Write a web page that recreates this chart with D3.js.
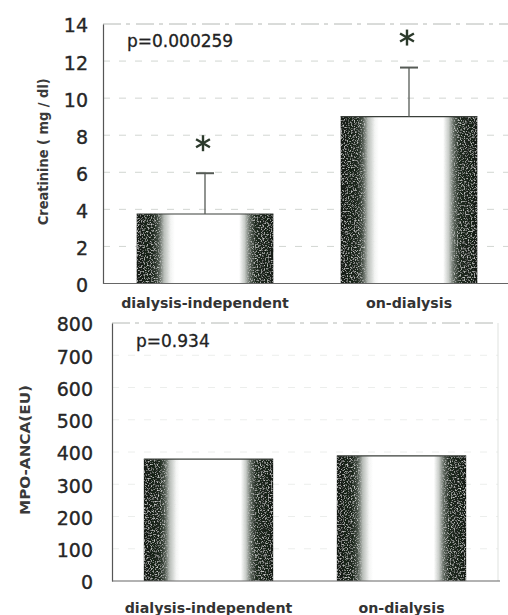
<!DOCTYPE html>
<html>
<head>
<meta charset="utf-8">
<script src="https://cdn.jsdelivr.net/npm/d3@7"></script>
<style>
  html, body { margin: 0; padding: 0; background: #fff; }
  svg { display: block; }
  text { font-family: "DejaVu Sans", sans-serif; }
</style>
</head>
<body>
<svg id="chart" width="508" height="615"></svg>
<script>
// ---- data ----
const groups = ["dialysis-independent", "on-dialysis"];

const creatinineMean = [3.75, 9.0];
const creatinineSD = [2.2, 2.65];
const creatinineTicks = [0, 2, 4, 6, 8, 10, 12, 14];
const creatinineP = "p=0.000259";
const creatinineSignificant = [true, true];

const mpoMean = [378, 388];
const mpoTicks = [0, 100, 200, 300, 400, 500, 600, 700, 800];
const mpoP = "p=0.934";

// ---- drawing ----
const svg = d3.select("#chart");
const defs = svg.append("defs");

// shaded column fill: dark edges fading to a white middle
const grad = defs.append("linearGradient")
  .attr("id", "barShade").attr("x1", "0%").attr("x2", "100%").attr("y1", "0%").attr("y2", "0%");
[
  [0, "#121a12"], [0.12, "#1c271c"], [0.16, "#4a534a"], [0.20, "#b8bdb8"], [0.25, "#f4f5f4"], [0.28, "#ffffff"],
  [0.75, "#ffffff"], [0.79, "#c8ccc8"], [0.83, "#5a635a"], [0.87, "#1f2a1f"], [1, "#141c14"]
].forEach(([o, c]) => grad.append("stop").attr("offset", o).attr("stop-color", c));

// grain that only shows on the darker parts of the columns
const grain = defs.append("filter").attr("id", "grain").attr("x", 0).attr("y", 0).attr("width", 1).attr("height", 1);
grain.append("feTurbulence").attr("type", "fractalNoise").attr("baseFrequency", "0.7").attr("numOctaves", 2).attr("seed", 5).attr("result", "noise");
grain.append("feColorMatrix").attr("in", "noise").attr("type", "matrix")
  .attr("values", "0 0 0 0 0.6  0 0 0 0 0.62  0 0 0 0 0.6  0 0 0 -3.2 1.55").attr("result", "speck");
grain.append("feColorMatrix").attr("in", "SourceGraphic").attr("type", "matrix")
  .attr("values", "0 0 0 0 0  0 0 0 0 0  0 0 0 0 0  -0.34 -0.33 -0.33 0 1").attr("result", "dark");
grain.append("feComposite").attr("in", "speck").attr("in2", "dark").attr("operator", "in").attr("result", "speckIn");
grain.append("feMerge").selectAll("feMergeNode").data(["SourceGraphic", "speckIn"]).join("feMergeNode").attr("in", d => d);

function panel(cfg) {
  const { x0, x1, yTop, yBottom, domainMax, ticks, means, sd, stars, pText, title, titleX, titleLen, labelY, tickRight } = cfg;

  const x = d3.scaleBand().domain(groups).range([x0, x1]).paddingInner(0.33).paddingOuter(0.165);
  const y = d3.scaleLinear().domain([0, domainMax]).range([yBottom, yTop]);

  const g = svg.append("g");

  // faint dashed guides
  g.append("g").selectAll("line").data(ticks.filter(t => t > 0 && t < domainMax)).join("line")
    .attr("x1", x0).attr("x2", x1).attr("y1", d => y(d)).attr("y2", d => y(d))
    .attr("stroke", cfg.gridColor).attr("stroke-width", 1).attr("stroke-dasharray", "7,9");

  // frame top and right
  g.append("line").attr("x1", x0).attr("x2", x1).attr("y1", y(domainMax)).attr("y2", y(domainMax))
    .attr("stroke", "#b4b8b4").attr("stroke-width", 1).attr("stroke-dasharray", "18,5,4,6");
  g.append("line").attr("x1", x1).attr("x2", x1).attr("y1", y(domainMax)).attr("y2", yBottom)
    .attr("stroke", cfg.rightColor).attr("stroke-width", 1);

  // bars
  g.append("g").selectAll("rect").data(means).join("rect")
    .attr("x", (d, i) => x(groups[i]))
    .attr("y", d => y(d))
    .attr("width", x.bandwidth())
    .attr("height", d => yBottom - y(d))
    .attr("fill", "url(#barShade)")
    .attr("filter", "url(#grain)");
  g.append("g").selectAll("line").data(means).join("line")
    .attr("x1", (d, i) => x(groups[i])).attr("x2", (d, i) => x(groups[i]) + x.bandwidth())
    .attr("y1", d => y(d)).attr("y2", d => y(d))
    .attr("stroke", "#3a3f3a").attr("stroke-width", 1.2);

  // error bars (upper only)
  if (sd) {
    const eb = g.append("g").attr("stroke", "#555a55").attr("stroke-width", 1.3);
    means.forEach((m, i) => {
      const cx = x(groups[i]) + x.bandwidth() / 2;
      eb.append("line").attr("x1", cx).attr("x2", cx).attr("y1", y(m)).attr("y2", y(m + sd[i]));
      eb.append("line").attr("x1", cx - 9).attr("x2", cx + 9).attr("y1", y(m + sd[i])).attr("y2", y(m + sd[i]))
        .attr("stroke-width", 2);
    });
    // significance asterisks
    means.forEach((m, i) => {
      if (!stars[i]) return;
      const cx = x(groups[i]) + x.bandwidth() / 2 - 2;
      const cy = y(m + sd[i]) - 30;
      const r = 8;
      const ast = g.append("g").attr("stroke", "#2c3a2c").attr("stroke-width", 2.4).attr("stroke-linecap", "butt");
      [90, 30, 150].forEach(a => {
        const rad = a * Math.PI / 180;
        ast.append("line")
          .attr("x1", cx - r * Math.cos(rad)).attr("y1", cy - r * Math.sin(rad))
          .attr("x2", cx + r * Math.cos(rad)).attr("y2", cy + r * Math.sin(rad));
      });
    });
  }

  // axes
  const yAxis = d3.axisLeft(y).tickValues(ticks).tickSize(0).tickPadding(tickRight);
  const ya = g.append("g").attr("transform", `translate(${x0},0)`).call(yAxis);
  ya.select(".domain").attr("stroke", "#555").attr("stroke-width", 1.2);
  ya.selectAll("text").attr("font-family", "DejaVu Sans").attr("font-size", 19)
    .attr("fill", "#262626").attr("stroke", "#262626").attr("stroke-width", 0.35).attr("dy", "0.42em");

  const xAxis = d3.axisBottom(x).tickSize(0).tickPadding(0);
  const xa = g.append("g").attr("transform", `translate(0,${yBottom})`).call(xAxis);
  xa.select(".domain").attr("stroke", "#666").attr("stroke-width", 1.2).attr("d", `M${x0},0H${x1 + 2}`);
  xa.selectAll("text").attr("font-family", "DejaVu Sans").attr("font-weight", "bold")
    .attr("font-size", 14.2).attr("fill", "#333").attr("dy", 0).attr("y", labelY - yBottom);

  // p value
  g.append("text").attr("x", x0 + 24).attr("y", y(domainMax) + cfg.pDy)
    .attr("font-size", 17).attr("fill", "#222").attr("stroke", "#222").attr("stroke-width", 0.3).text(pText);

  // y title
  g.append("text")
    .attr("transform", `translate(${titleX},${(yTop + yBottom) / 2 - 2}) rotate(-90)`)
    .attr("text-anchor", "middle").attr("font-weight", "bold").attr("font-size", 14.5)
    .attr("fill", "#3a3a3a")
    .attr("textLength", titleLen).attr("lengthAdjust", "spacingAndGlyphs")
    .text(title);
}

panel({
  x0: 103, x1: 511, yTop: 24, yBottom: 283.5, domainMax: 14,
  ticks: creatinineTicks, means: creatinineMean, sd: creatinineSD, stars: creatinineSignificant,
  pText: creatinineP, title: "Creatinine ( mg / dl)", titleX: 48, titleLen: 147,
  labelY: 308, tickRight: 15, pDy: 23, gridColor: "#d2d6d2", rightColor: "none"
});

panel({
  x0: 112, x1: 498, yTop: 323, yBottom: 581, domainMax: 800,
  ticks: mpoTicks, means: mpoMean, sd: null, stars: null,
  pText: mpoP, title: "MPO-ANCA(EU)", titleX: 30, titleLen: 130,
  labelY: 613, tickRight: 19, pDy: 24, gridColor: "#eceeec", rightColor: "#dfe2df"
});
</script>
</body>
</html>
